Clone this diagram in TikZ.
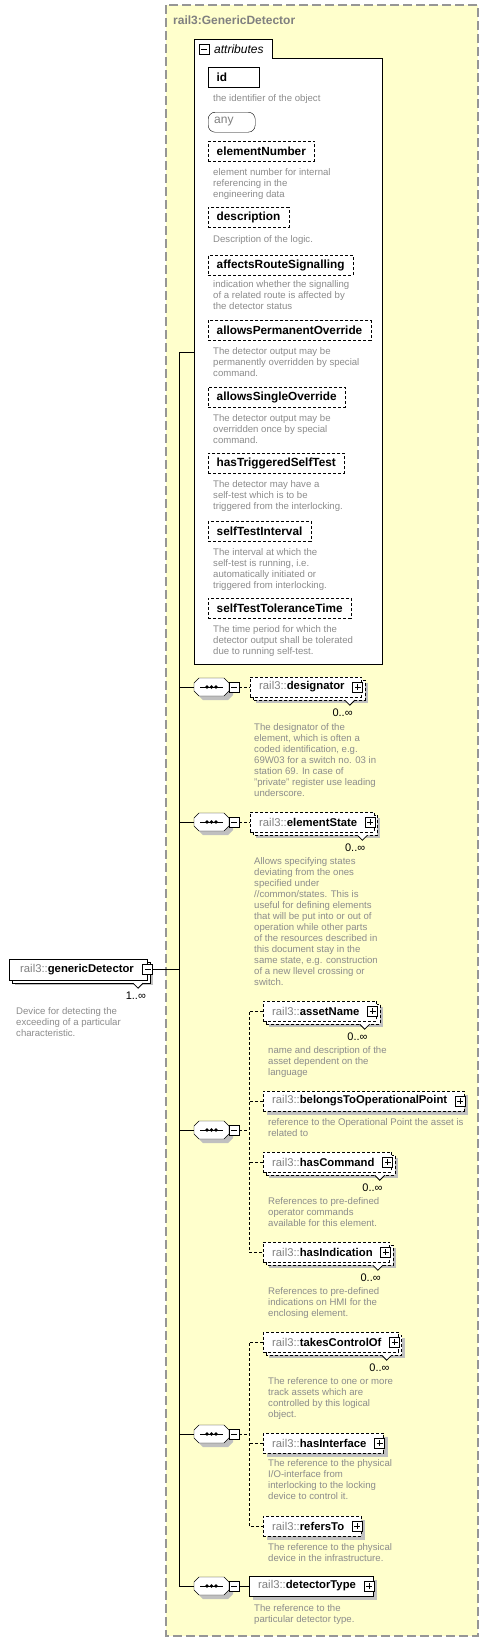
\documentclass[tikz,border=0pt]{standalone}
\usepackage{fontspec}
\setmainfont{Liberation Sans}
\usetikzlibrary{calc}
\definecolor{bgyellow}{RGB}{255,255,204}
\definecolor{framegray}{RGB}{150,150,150}
\definecolor{descgray}{RGB}{140,140,140}
\definecolor{pregray}{RGB}{128,128,128}
\definecolor{shadowgray}{RGB}{192,192,192}
\pgfdeclarelayer{back}
\pgfdeclarelayer{shade}
\pgfsetlayers{back,shade,main}
\newcommand\infsym{∞}
\newcommand\pre{{\mdseries\color{pregray}rail3::}}
\tikzset{
  lbl/.style={font=\fontsize{11.8}{14}\selectfont\bfseries},
  elbl/.style={font=\fontsize{11.3}{14}\selectfont\bfseries},
  dsh/.style={dash pattern=on 3pt off 2pt},
  elem/.style={draw, fill=white, minimum height=20, inner xsep=9, inner ysep=0, anchor=west, elbl},
  attr/.style={draw, fill=white, minimum height=20, inner xsep=8.5, inner ysep=0, anchor=north west, lbl},
  desc/.style={font=\fontsize{9.6}{11}\selectfont, text=descgray, align=left, anchor=north west, inner sep=0},
  mult/.style={font=\fontsize{11}{13}\selectfont, anchor=base east, inner sep=0},
  pmbox/.style={draw, solid, fill=white, minimum size=10, inner sep=0, line width=0.8pt},
  minusbox/.style={pmbox, path picture={\draw[line width=0.8pt] ([xshift=2pt]path picture bounding box.west) -- ([xshift=-2pt]path picture bounding box.east);}},
  plusbox/.style={pmbox, path picture={\draw[line width=0.8pt] ([xshift=2pt]path picture bounding box.west) -- ([xshift=-2pt]path picture bounding box.east) ([yshift=-2pt]path picture bounding box.north) -- ([yshift=2pt]path picture bounding box.south);}},
}
\newcommand\shadowof[1]{%
  \begin{pgfonlayer}{shade}
    \fill[shadowgray] ($(#1.south west)+(4,4)$) rectangle ($(#1.north east)+(4,4)$);
  \end{pgfonlayer}}
\newcommand\element[6]{%
  \node[elem,#5] (#1) at (#2,#3) {\pre#4\kern8pt};
  \node[plusbox] (#1-pm) at ([xshift=-4pt]#1.east) {};
  \begin{pgfonlayer}{shade}
  \ifnum#6=1
    \fill[shadowgray] ($(#1.south west)+(6,6)$) rectangle ($(#1.north east)+(6,6)$);
    \draw[fill=white,#5] ($(#1.south west)+(3,3)$) rectangle ($(#1.north east)+(3,3)$);
    \draw[fill=white,line width=0.8pt] ($(#1.south east)+(-17,3)$) -- ++(5,5) -- ++(5,-5);
  \else
    \fill[shadowgray] ($(#1.south west)+(4,4)$) rectangle ($(#1.north east)+(4,4)$);
  \fi
  \end{pgfonlayer}}
\newcommand\seqcomp[2]{%
  \node[inner sep=0, minimum width=35, minimum height=18] (#1) at (211.5,#2) {};
  \begin{pgfonlayer}{shade}
    \fill[shadowgray] (198,#2+4) ++(0,-4) -- ++(5,-5) -- ++(25,0) -- ++(5,5) -- ++(0,8) -- ++(-5,5) -- ++(-25,0) -- ++(-5,-5) -- cycle;
  \end{pgfonlayer}
  \draw[fill=white] (194,#2) ++(0,-4) -- ++(5,-5) -- ++(25,0) -- ++(5,5) -- ++(0,8) -- ++(-5,5) -- ++(-25,0) -- ++(-5,-5) -- cycle;
  \draw (200,#2) -- (223,#2);
  \fill (207,#2) circle (1.8pt) (211.5,#2) circle (1.8pt) (216,#2) circle (1.8pt);
  \node[minusbox] (#1-pm) at (234,#2) {};}
\begin{document}
\begin{tikzpicture}[x=1pt, y=-1pt, line width=1pt]
\useasboundingbox (0,0) rectangle (489,1642);
\begin{pgfonlayer}{back}
  \fill[white] (0,0) rectangle (489,1642);
  \draw[framegray, fill=bgyellow, dash pattern=on 9pt off 4pt, line width=1.3pt] (166,5) rectangle (478,1636);
\end{pgfonlayer}
\node[anchor=base west, inner sep=0, font=\fontsize{12}{14}\selectfont\bfseries, text=pregray] (title) at (173,24.5) {rail3:GenericDetector};

% attributes group
\node[inner sep=0, minimum width=188, minimum height=606, anchor=north west] (attrs) at (194,58) {};
\draw[fill=white] (194,39) -- (272,39) -- (272,58) -- (382,58) -- (382,664) -- (194,664) -- cycle;
\node[minusbox] (attrs-pm) at (204,49) {};
\node[anchor=west, inner sep=0, font=\fontsize{12}{14}\selectfont\itshape] (attrs-t) at (214,49) {attributes};

\node[attr, text width=34, align=left] (a-id) at (208,67) {id};
\shadowof{a-id}
\node[desc] (a-id-d) at (213,94) {the identifier of the object};

\node[draw, fill=white, rounded corners=7pt, minimum width=47, minimum height=20, inner sep=0, anchor=north west] (a-any) at (208,112) {};
\node[anchor=west, inner sep=0, font=\fontsize{12}{14}\selectfont, text=pregray] (a-any-t) at (214,122) {any};
\shadowof{a-any}

\node[attr,dsh] (a-en) at (208,141) {elementNumber};
\shadowof{a-en}
\node[desc] (a-en-d) at (213,168) {element number for internal\\referencing in the\\engineering data};

\node[attr,dsh] (a-de) at (208,207) {description};
\shadowof{a-de}
\node[desc] (a-de-d) at (213,235) {Description of the logic.};

\node[attr,dsh] (a-ar) at (208,255) {affectsRouteSignalling};
\shadowof{a-ar}
\node[desc] (a-ar-d) at (213,280) {indication whether the signalling\\of a related route is affected by\\the detector status};

\node[attr,dsh] (a-ap) at (208,320) {allowsPermanentOverride};
\shadowof{a-ap}
\node[desc] (a-ap-d) at (213,347) {The detector output may be\\permanently overridden by special\\command.};

\node[attr,dsh] (a-as) at (208,387) {allowsSingleOverride};
\shadowof{a-as}
\node[desc] (a-as-d) at (213,414) {The detector output may be\\overridden once by special\\command.};

\node[attr,dsh] (a-ht) at (208,453) {hasTriggeredSelfTest};
\shadowof{a-ht}
\node[desc] (a-ht-d) at (213,480) {The detector may have a\\self-test which is to be\\triggered from the interlocking.};

\node[attr,dsh] (a-si) at (208,521) {selfTestInterval};
\shadowof{a-si}
\node[desc] (a-si-d) at (213,548) {The interval at which the\\self-test is running, i.e.\\automatically initiated or\\triggered from interlocking.};

\node[attr,dsh] (a-st) at (208,598) {selfTestToleranceTime};
\shadowof{a-st}
\node[desc] (a-st-d) at (213,625) {The time period for which the\\detector output shall be tolerated\\due to running self-test.};

% root element
\node[elem, inner xsep=11, minimum height=21] (gd) at (9,969.5) {\pre genericDetector\kern2pt};
\begin{pgfonlayer}{shade}
  \fill[shadowgray] ($(gd.south west)+(6,5)$) rectangle ($(gd.north east)+(6,5)$);
  \draw[fill=white] ($(gd.south west)+(3,3)$) rectangle ($(gd.north east)+(3,3)$);
  \draw[fill=white,line width=0.8pt] ($(gd.south east)+(-14,3)$) -- ++(5,5) -- ++(5,-5);
\end{pgfonlayer}
\node[minusbox] (gd-pm) at ([xshift=0.5pt]gd.east) {};
\node[mult] (gd-m) at ($(gd.south east)+(-1,19)$) {1..\infsym};
\node[desc] (gd-d) at (16,1007) {Device for detecting the\\exceeding of a particular\\characteristic.};

% spine
\coordinate (sp-top) at (179,352);
\coordinate (sp-bot) at (179,1586);
\draw (sp-top) -- (sp-bot);
\draw (sp-top) -- (sp-top -| attrs.west);
\draw (gd-pm.east) -- (gd-pm.east -| sp-top);

% compositors
\seqcomp{c1}{687}
\seqcomp{c2}{822}
\seqcomp{c3}{1130}
\seqcomp{c4}{1434}
\seqcomp{c5}{1586}
\foreach \c in {c1,c2,c3,c4,c5} { \draw (\c.west -| sp-top) -- (\c.west); }

% elements
\element{dsg}{250}{687}{designator}{dsh}{1}
\node[mult] (dsg-m) at ($(dsg.south east)+(-9,19)$) {0..\infsym};
\node[desc] (dsg-d) at (254,723) {The designator of the\\element, which is often a\\coded identification, e.g.\\69W03 for a switch no. 03 in\\station 69. In case of\\"private" register use leading\\underscore.};

\element{est}{250}{822}{elementState}{dsh}{1}
\node[mult] (est-m) at ($(est.south east)+(-9,19)$) {0..\infsym};
\node[desc] (est-d) at (254,857) {Allows specifying states\\deviating from the ones\\specified under\\//common/states. This is\\useful for defining elements\\that will be put into or out of\\operation while other parts\\of the resources described in\\this document stay in the\\same state, e.g. construction\\of a new llevel crossing or\\switch.};

\element{asn}{263}{1011}{assetName}{dsh}{1}
\node[mult] (asn-m) at ($(asn.south east)+(-9,19)$) {0..\infsym};
\node[desc] (asn-d) at (268,1046) {name and description of the\\asset dependent on the\\language};

\element{btop}{263}{1101}{belongsToOperationalPoint}{dsh}{0}
\node[desc] (btop-d) at (268,1118) {reference to the Operational Point the asset is\\related to};

\element{hcm}{263}{1162}{hasCommand}{dsh}{1}
\node[mult] (hcm-m) at ($(hcm.south east)+(-9,19)$) {0..\infsym};
\node[desc] (hcm-d) at (268,1197) {References to pre-defined\\operator commands\\available for this element.};

\element{hin}{263}{1252}{hasIndication}{dsh}{1}
\node[mult] (hin-m) at ($(hin.south east)+(-9,19)$) {0..\infsym};
\node[desc] (hin-d) at (268,1287) {References to pre-defined\\indications on HMI for the\\enclosing element.};

\element{tco}{263}{1342}{takesControlOf}{dsh}{1}
\node[mult] (tco-m) at ($(tco.south east)+(-9,19)$) {0..\infsym};
\node[desc] (tco-d) at (268,1377) {The reference to one or more\\track assets which are\\controlled by this logical\\object.};

\element{hif}{263}{1443}{hasInterface}{dsh}{0}
\node[desc] (hif-d) at (268,1459) {The reference to the physical\\I/O-interface from\\interlocking to the locking\\device to control it.};

\element{rto}{263}{1526}{refersTo}{dsh}{0}
\node[desc] (rto-d) at (268,1543) {The reference to the physical\\device in the infrastructure.};

\element{dty}{249}{1586}{detectorType}{}{0}
\node[desc] (dty-d) at (254,1604) {The reference to the\\particular detector type.};

% connectors from compositors
\draw[dsh] (c1-pm.east) -- (dsg.west);
\draw[dsh] (c2-pm.east) -- (est.west);
\coordinate (bus3) at (249,1130);
\draw[dsh] (c3-pm.east) -- (bus3);
\draw[dsh] (asn.west) -- (asn.west -| bus3) -- (hin.west -| bus3) -- (hin.west);
\draw[dsh] (btop.west) -- (btop.west -| bus3);
\draw[dsh] (hcm.west) -- (hcm.west -| bus3);
\coordinate (bus4) at (249,1434);
\draw[dsh] (c4-pm.east) -- (bus4);
\draw[dsh] (tco.west) -- (tco.west -| bus4) -- (rto.west -| bus4) -- (rto.west);
\draw[dsh] (hif.west) -- (hif.west -| bus4);
\draw (c5-pm.east) -- (dty.west);
\end{tikzpicture}
\end{document}
